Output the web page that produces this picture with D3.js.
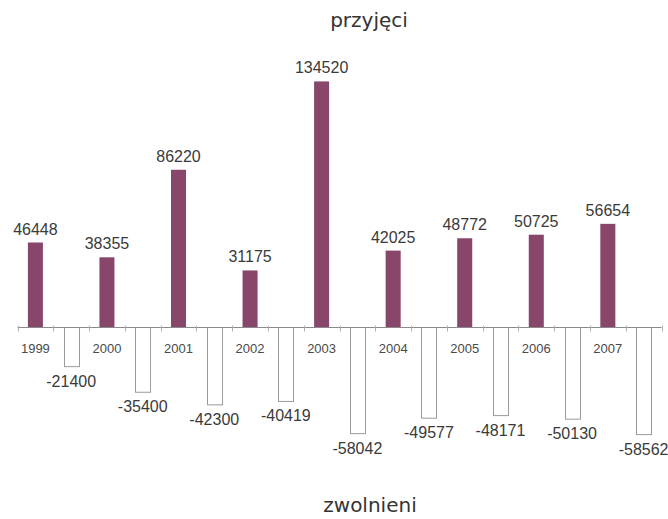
<!DOCTYPE html>
<html>
<head>
<meta charset="utf-8">
<script src="https://cdn.jsdelivr.net/npm/d3@7"></script>
<style>
  body { margin: 0; background: #fff; }
</style>
</head>
<body>
<script>
'use strict';

const years = ["1999", "2000", "2001", "2002", "2003", "2004", "2005", "2006", "2007"];
const hired = [46448, 38355, 86220, 31175, 134520, 42025, 48772, 50725, 56654];
const fired = [-21400, -35400, -42300, -40419, -58042, -49577, -48171, -50130, -58562];
const series = ["przyjęci", "zwolnieni"];

function createChart(width, height) {
    let svg = d3.create("svg")
        .attr("width", width)
        .attr("height", height);

    let x = d3.scaleBand()
        .domain(years)
        .range([17.5, 661.5]);

    let sub = d3.scaleBand()
        .domain(series)
        .range([0, x.bandwidth()])
        .paddingInner(0.58)
        .paddingOuter(0.29);

    let y = d3.scaleLinear()
        .domain([-60000, 140000])
        .range([437.2, 71.4]);

    let y0 = Math.round(y(0)) + 0.5;

    // bars
    let g = svg.append("g");
    g.selectAll("rect.pos")
        .data(years)
        .enter().append("rect")
        .attr("class", "pos")
        .attr("x", (d) => x(d) + sub(series[0]))
        .attr("y", (d, i) => y(hired[i]))
        .attr("width", sub.bandwidth())
        .attr("height", (d, i) => y(0) - y(hired[i]))
        .attr("fill", "#87466a");

    g.selectAll("rect.neg")
        .data(years)
        .enter().append("rect")
        .attr("class", "neg")
        .attr("x", (d) => Math.round(x(d) + sub(series[1])) + 0.5)
        .attr("y", y0)
        .attr("width", sub.bandwidth())
        .attr("height", (d, i) => y(fired[i]) - y(0))
        .attr("fill", "#fff")
        .attr("stroke", "#9a9a9a")
        .attr("stroke-width", 1);

    // axis line + ticks
    let axis = svg.append("g");
    axis.append("line")
        .attr("x1", x.range()[0]).attr("x2", x.range()[1])
        .attr("y1", y0).attr("y2", y0)
        .attr("stroke", "#8a8a8a");

    let tickPos = [];
    years.forEach((d) => { tickPos.push(x(d)); tickPos.push(x(d) + sub.step()); });
    tickPos.push(x.range()[1]);
    axis.selectAll("line.tick")
        .data(tickPos)
        .enter().append("line")
        .attr("class", "tick")
        .attr("x1", (d) => Math.round(d) + 0.5).attr("x2", (d) => Math.round(d) + 0.5)
        .attr("y1", y0 - 2).attr("y2", y0 + 4)
        .attr("stroke", "#b0b0b0");

    axis.selectAll("text.year")
        .data(years)
        .enter().append("text")
        .attr("class", "year")
        .attr("x", (d) => x(d) + sub(series[0]) + sub.bandwidth() / 2)
        .attr("y", 353)
        .attr("text-anchor", "middle")
        .attr("font-family", "Liberation Sans, Arial, sans-serif")
        .attr("font-size", 13)
        .attr("fill", "#4a4a4a")
        .text((d) => d);

    // value labels
    let labels = svg.append("g")
        .attr("font-family", "Liberation Sans, Arial, sans-serif")
        .attr("font-size", 16)
        .attr("fill", "#3a3a3a")
        .attr("text-anchor", "middle");

    labels.selectAll("text.pos")
        .data(years)
        .enter().append("text")
        .attr("x", (d) => x(d) + sub(series[0]) + sub.bandwidth() / 2)
        .attr("y", (d, i) => y(hired[i]) - 8)
        .text((d, i) => hired[i]);

    labels.selectAll("text.neg")
        .data(years)
        .enter().append("text")
        .attr("x", (d) => x(d) + sub(series[1]) + sub.bandwidth() / 2)
        .attr("y", (d, i) => y(fired[i]) + 20)
        .text((d, i) => fired[i]);

    // series titles
    svg.append("text")
        .attr("x", 369).attr("y", 27)
        .attr("text-anchor", "middle")
        .attr("font-family", "DejaVu Sans, sans-serif")
        .attr("font-size", 20)
        .attr("fill", "#333")
        .text(series[0]);

    svg.append("text")
        .attr("x", 370).attr("y", 512)
        .attr("text-anchor", "middle")
        .attr("font-family", "DejaVu Sans, sans-serif")
        .attr("font-size", 20)
        .attr("fill", "#333")
        .text(series[1]);

    d3.select("body").append(() => svg.node());
    return svg.node();
}

createChart(668, 519);
</script>
</body>
</html>
